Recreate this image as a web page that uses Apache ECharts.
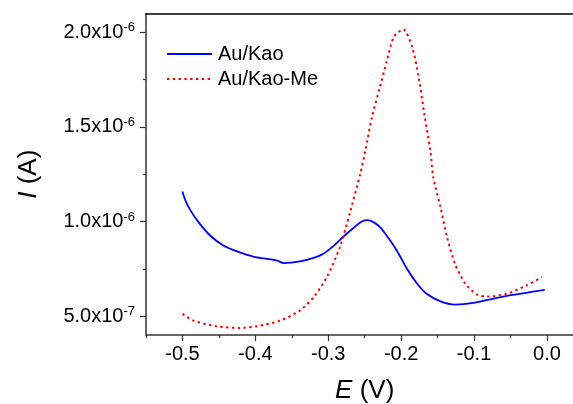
<!DOCTYPE html>
<html>
<head>
<meta charset="utf-8">
<script src="https://cdn.jsdelivr.net/npm/echarts@6/dist/echarts.min.js"></script>
<style>html,body{margin:0;padding:0;background:#fff;overflow:hidden;}#c{width:584px;height:404px;}</style>
</head>
<body>
<div id="c"></div>
<script>
// Data (E in V, I in units of 1e-6 A)
const seriesNames = ['Au/Kao', 'Au/Kao-Me'];
const blueE = [-0.5, -0.496, -0.489, -0.478, -0.462, -0.444, -0.425, -0.403, -0.371, -0.361, -0.339, -0.320, -0.307, -0.293, -0.279, -0.265, -0.254, -0.246, -0.238, -0.229, -0.220, -0.206, -0.192, -0.178, -0.165, -0.146, -0.126, -0.101, -0.055, -0.003];
const blueI = [1.159, 1.112, 1.059, 0.997, 0.926, 0.873, 0.842, 0.815, 0.794, 0.780, 0.789, 0.808, 0.829, 0.870, 0.921, 0.967, 1.000, 1.007, 0.997, 0.970, 0.926, 0.847, 0.750, 0.671, 0.618, 0.578, 0.561, 0.570, 0.607, 0.639];
const redE = [-0.5, -0.485, -0.453, -0.421, -0.398, -0.366, -0.339, -0.320, -0.302, -0.284, -0.270, -0.256, -0.249, -0.240, -0.229, -0.220, -0.210, -0.197, -0.185, -0.176, -0.168, -0.160, -0.156, -0.146, -0.137, -0.126, -0.112, -0.096, -0.082, -0.055, -0.028, -0.007];
const redI = [0.512, 0.476, 0.446, 0.437, 0.446, 0.476, 0.529, 0.600, 0.706, 0.864, 1.050, 1.253, 1.377, 1.553, 1.712, 1.844, 1.977, 2.016, 1.924, 1.765, 1.562, 1.377, 1.235, 1.076, 0.917, 0.776, 0.671, 0.614, 0.603, 0.618, 0.662, 0.706];
const xMajorTicks = [-0.5, -0.4, -0.3, -0.2, -0.1, 0.0];
const xMinorTicks = [-0.55, -0.45, -0.35, -0.25, -0.15, -0.05];
const yMajorTicks = [0.5e-6, 1.0e-6, 1.5e-6, 2.0e-6];
const yMinorTicks = [0.75e-6, 1.25e-6, 1.75e-6];
const UNIT = 1e-6;

const toPairs = (xs, ys) => xs.map((x, i) => [x, ys[i] * UNIT]);

function sciLabel(v) {
  const e = Math.floor(Math.log10(v) + 1e-9);
  const m = (v / Math.pow(10, e)).toFixed(1);
  return '{a|' + m + 'x10}{s|' + e + '}';
}

const FONT = '"Liberation Sans", Arial, sans-serif';
const AX = '#333';
const grid = { left: 146, top: 13.5, width: 437.4, height: 321.5, containLabel: false, outerBoundsMode: 'none' };
const xRange = { min: -0.55, max: 0.05 };
const yRange = { min: 0.4e-6, max: 2.1e-6 };

const chart = echarts.init(document.getElementById('c'), null, { renderer: 'canvas' });
chart.setOption({
  backgroundColor: '#fff',
  animation: false,
  grid: grid,
  legend: {
    orient: 'vertical',
    left: 161,
    top: 39,
    itemWidth: 45,
    itemHeight: 20,
    itemGap: 5,
    data: seriesNames,
    itemStyle: { opacity: 0 },
    textStyle: { fontFamily: FONT, fontSize: 20, color: '#000', padding: [0, 0, 0, 1] }
  },
  xAxis: [
    {
      type: 'value', position: 'bottom', min: xRange.min, max: xRange.max,
      name: '{i|E} (V)', nameLocation: 'middle', nameGap: 43,
      nameTextStyle: { fontFamily: FONT, fontSize: 26, color: '#000', rich: { i: { fontFamily: FONT, fontSize: 26, fontStyle: 'italic', color: '#000' } } },
      axisLine: { show: true, onZero: false, lineStyle: { color: AX, width: 1.5 } },
      axisTick: { show: true, inside: false, length: 6, customValues: xMajorTicks, lineStyle: { color: AX, width: 1.2 } },
      axisLabel: { show: true, customValues: xMajorTicks, margin: 9, fontFamily: FONT, fontSize: 20, color: '#000',
        formatter: v => v.toFixed(1) },
      splitLine: { show: false }
    },
    {
      type: 'value', position: 'bottom', min: xRange.min, max: xRange.max,
      axisLine: { show: false, onZero: false },
      axisTick: { show: true, inside: false, length: 3, customValues: xMinorTicks, lineStyle: { color: AX, width: 1.2 } },
      axisLabel: { show: false },
      splitLine: { show: false }
    },
    {
      type: 'value', position: 'top', min: xRange.min, max: xRange.max,
      axisLine: { show: true, onZero: false, lineStyle: { color: '#000', width: 1.5 } },
      axisTick: { show: false }, axisLabel: { show: false }, splitLine: { show: false }
    }
  ],
  yAxis: [
    {
      type: 'value', position: 'left', min: yRange.min, max: yRange.max,
      name: '{i|I} (A)', nameLocation: 'middle', nameGap: 104, nameRotate: 90,
      nameTextStyle: { fontFamily: FONT, fontSize: 26, color: '#000', rich: { i: { fontFamily: FONT, fontSize: 26, fontStyle: 'italic', color: '#000' } } },
      axisLine: { show: true, onZero: false, lineStyle: { color: AX, width: 1.5 } },
      axisTick: { show: true, inside: false, length: 6, customValues: yMajorTicks, lineStyle: { color: AX, width: 1.2 } },
      axisLabel: { show: true, customValues: yMajorTicks, margin: 11, formatter: sciLabel,
        rich: {
          a: { fontFamily: FONT, fontSize: 20, color: '#000', lineHeight: 22 },
          s: { fontFamily: FONT, fontSize: 13, color: '#000', verticalAlign: 'top', lineHeight: 13 }
        } },
      splitLine: { show: false }
    },
    {
      type: 'value', position: 'left', min: yRange.min, max: yRange.max,
      axisLine: { show: false, onZero: false },
      axisTick: { show: true, inside: false, length: 3, customValues: yMinorTicks, lineStyle: { color: AX, width: 1.2 } },
      axisLabel: { show: false },
      splitLine: { show: false }
    },
    {
      type: 'value', position: 'right', min: yRange.min, max: yRange.max,
      axisLine: { show: true, onZero: false, lineStyle: { color: '#000', width: 1.5 } },
      axisTick: { show: false }, axisLabel: { show: false }, splitLine: { show: false }
    }
  ],
  series: [
    {
      name: seriesNames[0], type: 'line', xAxisIndex: 0, yAxisIndex: 0,
      data: toPairs(blueE, blueI), smooth: 0.25, symbol: 'none',
      lineStyle: { color: '#0000ff', width: 1.8 }, itemStyle: { color: '#0000ff' }
    },
    {
      name: seriesNames[1], type: 'line', xAxisIndex: 0, yAxisIndex: 0,
      data: toPairs(redE, redI), smooth: 0.25, symbol: 'none',
      lineStyle: { color: '#ff0000', width: 2, type: [2.4, 3.4] }, itemStyle: { color: '#ff0000' }
    }
  ]
});
</script>
</body>
</html>
